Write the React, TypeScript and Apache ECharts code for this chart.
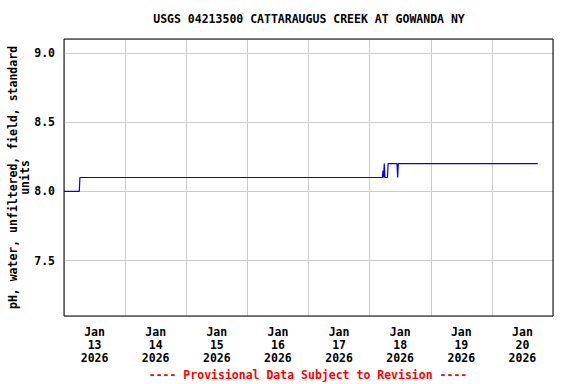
import React, { useEffect, useRef } from "react";
import * as echarts from "echarts";

const TITLE = "USGS 04213500 CATTARAUGUS CREEK AT GOWANDA NY";
const FOOTER = "---- Provisional Data Subject to Revision ----";
const Y_NAME = "pH, water, unfiltered, field, standard\nunits";

const dayLabels = ["Jan\n13\n2026", "Jan\n14\n2026", "Jan\n15\n2026", "Jan\n16\n2026", "Jan\n17\n2026", "Jan\n18\n2026", "Jan\n19\n2026", "Jan\n20\n2026"];

const times = [
  "2026-01-13T00:00", "2026-01-13T06:00", "2026-01-13T06:15",
  "2026-01-18T05:00", "2026-01-18T05:15", "2026-01-18T05:30",
  "2026-01-18T05:45", "2026-01-18T06:00", "2026-01-18T07:00",
  "2026-01-18T07:15", "2026-01-18T10:45", "2026-01-18T11:00",
  "2026-01-18T11:15", "2026-01-20T18:00",
];
const phValues = [
  8.0, 8.0, 8.1,
  8.1, 8.15, 8.1,
  8.2, 8.1, 8.1,
  8.2, 8.2, 8.1,
  8.2, 8.2,
];

const X_MIN = "2026-01-13T00:00";
const X_MAX = "2026-01-21T00:00";
const Y_MIN = 7.1;
const Y_MAX = 9.1;

const toMs = (s: string) => Date.parse(s + ":00Z");
const DAY = 86400000;
const FONT = "'DejaVu Sans Mono', 'Liberation Mono', monospace";

export default function App() {
  const ref = useRef<HTMLDivElement>(null);
  useEffect(() => {
    document.body.style.margin = "0";
    if (!ref.current) return;
    const chart = echarts.init(ref.current, null, { renderer: "svg" });
    const gridLeft = 64, gridTop = 39, gridRight = 23, gridBottom = 68;
    chart.setOption({
      animation: false,
      backgroundColor: "#ffffff",
      textStyle: { fontFamily: FONT },
      grid: {
        left: gridLeft, top: gridTop, right: gridRight, bottom: gridBottom,
        containLabel: false, outerBoundsMode: "none",
      },
      graphic: [
        {
          type: "text", x: 309, y: 13, z: 10,
          style: { text: TITLE, fontFamily: FONT, fontWeight: "bold", fontSize: 11.5, fill: "#000", textAlign: "center" },
        },
        {
          type: "text", x: 308, y: 369, z: 10,
          style: { text: FOOTER, fontFamily: FONT, fontWeight: "bold", fontSize: 11.5, fill: "#ff0000", textAlign: "center" },
        },
        {
          type: "rect", z: 100, silent: true,
          shape: { x: gridLeft, y: gridTop, width: 576 - gridLeft - gridRight, height: 384 - gridTop - gridBottom },
          style: { fill: "none", stroke: "#000", lineWidth: 1 },
        },
      ],
      xAxis: [
        {
          type: "value",
          min: toMs(X_MIN),
          max: toMs(X_MAX),
          interval: DAY,
          axisLine: { show: false },
          axisTick: { show: false },
          axisLabel: { show: false },
          splitLine: { show: true, lineStyle: { color: "#cccccc", width: 1 } },
        },
        {
          type: "category",
          position: "bottom",
          data: dayLabels,
          boundaryGap: true,
          axisLine: { show: false },
          axisTick: { show: false },
          splitLine: { show: false },
          axisLabel: {
            interval: 0, margin: 9, fontFamily: FONT, fontWeight: "bold", fontSize: 11.5,
            color: "#000", lineHeight: 13, align: "center",
          },
        },
      ],
      yAxis: {
        type: "value",
        min: Y_MIN,
        max: Y_MAX,
        splitNumber: 4,
        name: Y_NAME,
        nameLocation: "middle",
        nameRotate: 90,
        nameGap: 33,
        nameMoveOverlap: false,
        nameTextStyle: { fontFamily: FONT, fontWeight: "bold", fontSize: 11.5, color: "#000", lineHeight: 12, align: "center" },
        axisLine: { show: false },
        axisTick: { show: false },
        axisLabel: {
          margin: 9, fontFamily: FONT, fontWeight: "bold", fontSize: 11.5, color: "#000",
          formatter: (v: number) => (Math.abs(v * 2 - Math.round(v * 2)) < 1e-6 ? v.toFixed(1) : ""),
        },
        splitLine: { show: true, lineStyle: { color: "#cccccc", width: 1 } },
      },
      series: [
        {
          type: "line",
          xAxisIndex: 0,
          data: times.map((t, i) => [toMs(t), phValues[i]]),
          showSymbol: false,
          symbol: "none",
          lineStyle: { color: "#0000ff", width: 1.2 },
        },
      ],
    });
    return () => chart.dispose();
  }, []);
  return <div ref={ref} style={{ width: 576, height: 384 }} />;
}
